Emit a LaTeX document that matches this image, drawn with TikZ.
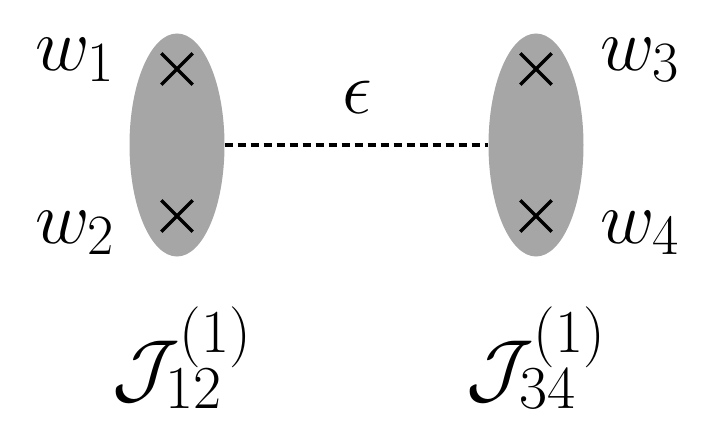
\RequirePackage{fix-cm}
\documentclass[tikz,border=0pt]{standalone}
\DeclareMathSizes{75}{75}{57}{44}
\DeclareMathSizes{78}{78}{61}{46}
\usetikzlibrary{shapes.geometric,shapes.misc}
\begin{document}
\begin{tikzpicture}[x=1pt,y=-1pt,
  blob/.style={ellipse,fill={rgb,255:red,166;green,166;blue,166},minimum width=95pt,minimum height=223pt,inner sep=0pt},
  xmark/.style={cross out,draw,line width=3.4pt,minimum size=28pt,inner sep=0pt},
  lbl/.style={inner sep=0pt,font=\fontsize{75}{85}\selectfont},
  biglbl/.style={inner sep=0pt,font=\fontsize{78}{88}\selectfont}]
\useasboundingbox (0,0) rectangle (716,428);
\node[blob] (L) at (177,145) {};
\node[blob] (R) at (536,145) {};
\node[xmark] (x1) at (177,69) {};
\node[xmark] (x2) at (177,216) {};
\node[xmark] (x3) at (536,69) {};
\node[xmark] (x4) at (536,216) {};
\draw[line width=3.2pt,dash pattern=on 8pt off 5pt] (L.east) -- (R.west);
\node[lbl] (eps) at (357,97) {$\epsilon$};
\node[lbl] (w1) at (75,60) {$w_1$};
\node[lbl] (w2) at (75,233) {$w_2$};
\node[lbl] (w3) at (640,60) {$w_3$};
\node[lbl] (w4) at (640,233) {$w_4$};
\node[biglbl] (J1) at (182,358) {$\mathcal{J}_{12}^{(1)}$};
\node[biglbl] (J2) at (536,358) {$\mathcal{J}_{34}^{(1)}$};
\end{tikzpicture}
\end{document}
